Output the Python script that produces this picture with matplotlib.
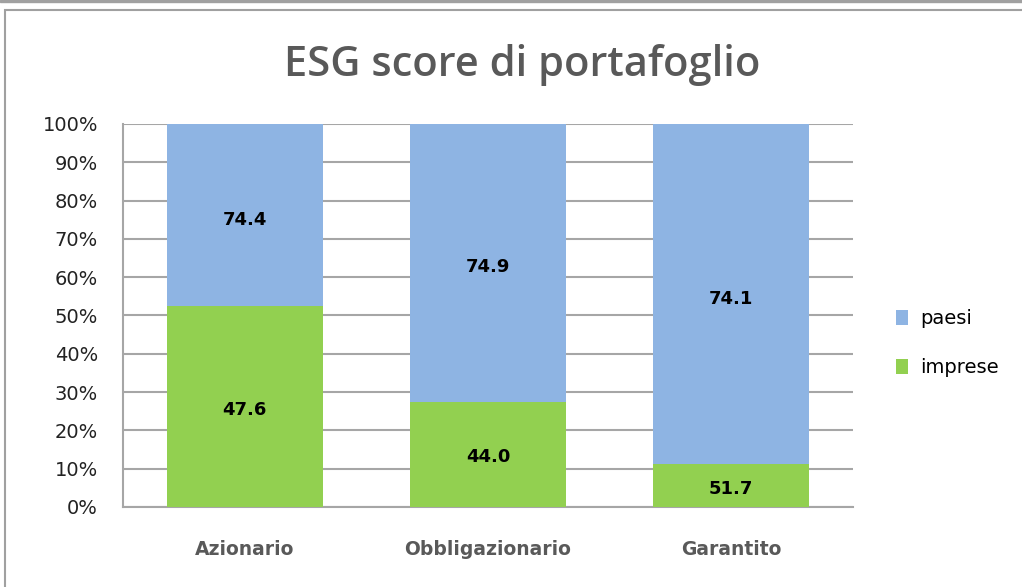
import matplotlib
matplotlib.use("Agg")
import matplotlib.pyplot as plt
from matplotlib.patches import Rectangle
from matplotlib.ticker import FuncFormatter, MultipleLocator

categories = ["Azionario", "Obbligazionario", "Garantito"]
# share of each bar (percent of 100)
imprese_share = [52.5, 27.5, 11.1]
paesi_share = [47.5, 72.5, 88.9]
# scores shown as data labels
imprese_score = [47.6, 44.0, 51.7]
paesi_score = [74.4, 74.9, 74.1]

blue = "#8EB4E3"
green = "#92D050"
grid = "#A6A6A6"

fig = plt.figure(figsize=(10.22, 5.87), dpi=100)
ax = fig.add_axes([0.1204, 0.1363, 0.7142, 0.6525])

x = range(len(categories))
ax.bar(x, imprese_share, width=0.64, color=green, label="imprese", zorder=3)
ax.bar(x, paesi_share, width=0.64, bottom=imprese_share, color=blue,
       label="paesi", zorder=3)

for i in x:
    ax.text(i, imprese_share[i] / 2 - 0.8, f"{imprese_score[i]:.1f}", ha="center",
            va="center", fontsize=13, fontweight="bold", zorder=4)
    ax.text(i, imprese_share[i] + paesi_share[i] / 2 - 1.2, f"{paesi_score[i]:.1f}",
            ha="center", va="center", fontsize=13, fontweight="bold", zorder=4)

ax.set_xlim(-0.5, 2.5)
ax.set_ylim(0, 100)
ax.yaxis.set_major_locator(MultipleLocator(10))
ax.yaxis.set_major_formatter(FuncFormatter(lambda v, p: f"{v:.0f}%"))
ax.grid(axis="y", color=grid, linewidth=1.5, zorder=0)
ax.set_xticks(list(x))
ax.set_xticklabels(categories, fontweight="bold", color="#595959", fontsize=13.5)
ax.tick_params(axis="x", length=0, pad=24)
ax.tick_params(axis="y", length=0, pad=18, labelsize=14, labelcolor="#222222")
for s in ["top", "right"]:
    ax.spines[s].set_visible(False)
for s in ["left", "bottom"]:
    ax.spines[s].set_color(grid)
    ax.spines[s].set_linewidth(1.5)

fig.text(0.511, 0.89, "ESG score di portafoglio", ha="center", va="center",
         fontsize=30, color="#595959", family="Open Sans", fontweight="semibold")

h, l = ax.get_legend_handles_labels()
fig.legend(h[::-1], l[::-1], loc="center left", bbox_to_anchor=(0.86, 0.415),
           frameon=False, fontsize=14, handlelength=0.6, handleheight=0.8,
           labelspacing=1.55, handletextpad=0.6)

# chart border
fig.patches.append(Rectangle((0.005, -0.01), 1.2, 0.993, transform=fig.transFigure,
                             fill=False, edgecolor="#A0A0A0", linewidth=1.5))
fig.patches.append(Rectangle((0, 0.997), 1, 0.003, transform=fig.transFigure,
                             color="#A0A0A0"))

fig.savefig("out.png", dpi=100)
